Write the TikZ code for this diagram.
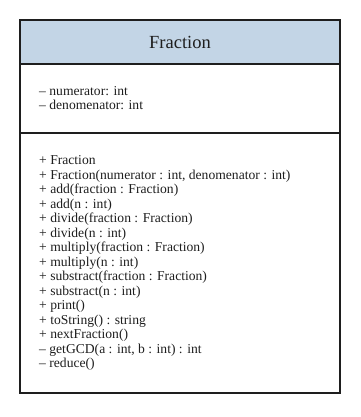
\documentclass[tikz,border=0pt]{standalone}
\usepackage{fontspec}
\setmainfont{Liberation Serif}
\usepackage{xcolor}
\definecolor{headblue}{HTML}{C3D5E6}
\definecolor{linegray}{HTML}{1E1E1E}

\begin{document}
\begin{tikzpicture}[x=1pt, y=-1pt,
    box/.style={draw=linegray, line width=2pt},
    member/.style={anchor=west, align=left, inner sep=0pt, text=linegray,
      font=\fontsize{13.6}{14.5}\selectfont}]
  \useasboundingbox (0,0) rectangle (360,417);

  % Class name compartment
  \draw[box, fill=headblue] (20,20) rectangle (340,64);
  \node[text=linegray, font=\fontsize{18.5}{20}\selectfont] (title) at (180,42) {Fraction};

  % Attributes
  \draw[box] (20,64) rectangle (340,133);
  \node[member] (attrs) at (39,98) {%
    -- numerator: int\\
    -- denomenator: int};

  % Operations
  \draw[box] (20,133) rectangle (340,393);
  \node[member] (ops) at (39,263) {%
    + Fraction\\
    + Fraction(numerator : int, denomenator : int)\\
    + add(fraction : Fraction)\\
    + add(n : int)\\
    + divide(fraction : Fraction)\\
    + divide(n : int)\\
    + multiply(fraction : Fraction)\\
    + multiply(n : int)\\
    + substract(fraction : Fraction)\\
    + substract(n : int)\\
    + print()\\
    + toString() : string\\
    + nextFraction()\\
    -- getGCD(a : int, b : int) : int\\
    -- reduce()};
\end{tikzpicture}
\end{document}
